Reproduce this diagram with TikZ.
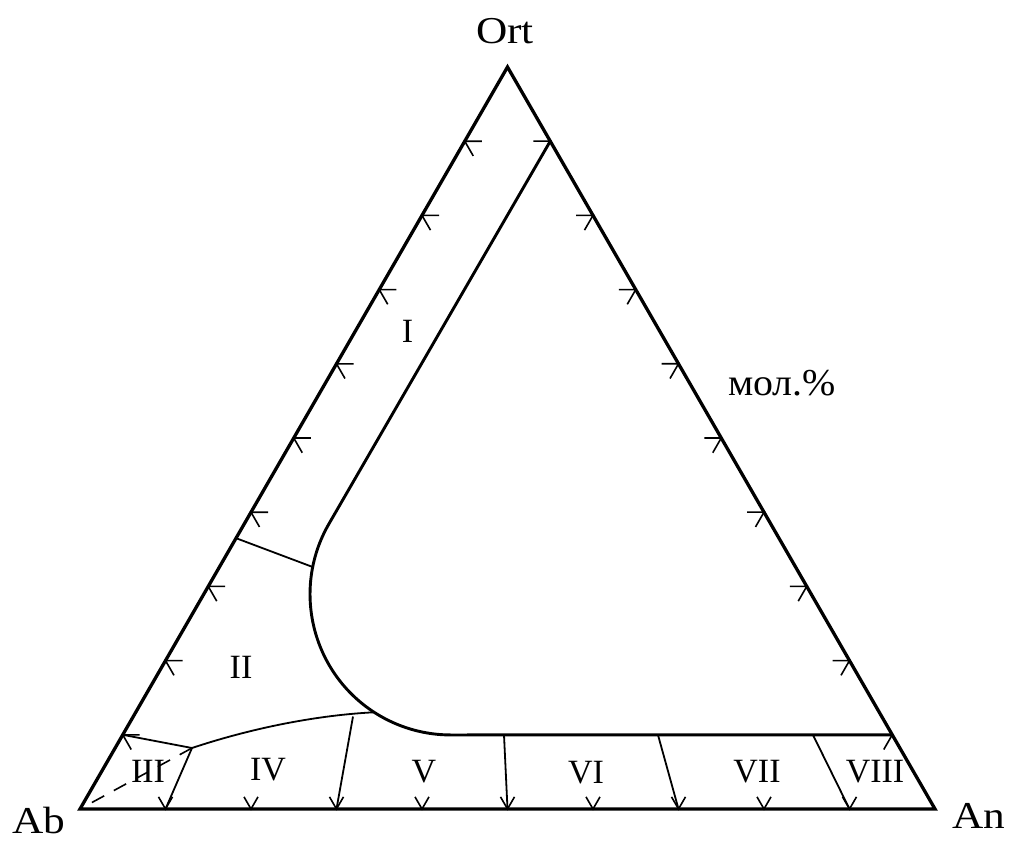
\documentclass[tikz,border=0pt]{standalone}
\usepackage{fontspec}
\setmainfont{Liberation Serif}
\usetikzlibrary{calc}
\begin{document}
\begin{tikzpicture}[x=1pt,y=-1pt,
  side/.style={line width=3.3pt, line cap=round, line join=miter},
  maincurve/.style={line width=2.9pt},
  thin/.style={line width=1.8pt},
  tickmark/.style={line width=1.6pt},
  dashedline/.style={line width=1.6pt, dash pattern=on 14pt off 11pt},
  vlabel/.style={font=\fontsize{38}{40}\selectfont, anchor=base, inner sep=0pt},
  rlabel/.style={font=\fontsize{34}{36}\selectfont, anchor=base, inner sep=0pt}]
\useasboundingbox (0,0) rectangle (1009,842);
% vertices
\coordinate (Ab) at (80,809);
\coordinate (An) at (935,809);
\coordinate (Ort) at (507.5,67);
\draw[side] (Ab) -- (An) -- (Ort) -- cycle;
% ticks on the three sides
\foreach \k in {1,...,9}{
  \coordinate (L\k) at ($(Ab)!\k/10!(Ort)$);
  \coordinate (R\k) at ($(Ort)!\k/10!(An)$);
  \coordinate (B\k) at ($(Ab)!\k/10!(An)$);
  \draw[tickmark] ($(L\k)+(0:17)$) -- (L\k) -- ($(L\k)+(60:17)$);
  \draw[tickmark] ($(R\k)+(180:17)$) -- (R\k) -- ($(R\k)+(120:17)$);
  \draw[tickmark] ($(B\k)+(240:14)$) -- (B\k) -- ($(B\k)+(300:14)$);
}
% main curve
\coordinate (C) at (450.7,594.3);
\coordinate (T1) at (328.9,523.9);
\draw[maincurve] (R1) -- (T1) arc[start angle=210, end angle=90, radius=140.7] -- (R9);
% boundary I/II
\coordinate (J12) at (312.7,567);
\coordinate (S12) at ($(Ab)!0.365!(Ort)$);
\draw[thin] (S12) -- (J12);
% junction III/IV
\coordinate (J3) at (192,748);
\coordinate (J4) at (374,712.3);
\draw[thin] (J3) .. controls (255,727) and (320,715) .. (J4);
\draw[thin] (J3) -- (L1);
\draw[thin] (J3) -- (B1);
\draw[dashedline] (J3) -- (Ab);
% lower boundaries
\coordinate (S45) at (353,716.5);
\coordinate (S56) at (504,735);
\coordinate (S67) at (658,735);
\coordinate (S78) at (813,735);
\draw[thin] (S45) -- (B3);
\draw[thin] (S56) -- (B5);
\draw[thin] (S67) -- (B7);
\draw[thin] (S78) -- (B9);
% labels
\node[vlabel] (lOrt) at (505,44) {\scalebox{1.14}[1]{Ort}};
\node[vlabel] (lAb) at (39,833) {\scalebox{1.14}[1]{Ab}};
\node[vlabel] (lAn) at (979,828) {\scalebox{1.14}[1]{An}};
\node[vlabel] (lmol) at (782,395) {\scalebox{1.05}[1]{мол.\%}};
\node[rlabel] (rI) at (407.5,342) {I};
\node[rlabel] (rII) at (241,678) {II};
\node[rlabel] (rIII) at (148,782) {III};
\node[rlabel] (rIV) at (268,780) {IV};
\node[rlabel] (rV) at (424,782) {V};
\node[rlabel] (rVI) at (586,783) {VI};
\node[rlabel] (rVII) at (757,782) {VII};
\node[rlabel] (rVIII) at (875,782) {VIII};
\end{tikzpicture}
\end{document}
